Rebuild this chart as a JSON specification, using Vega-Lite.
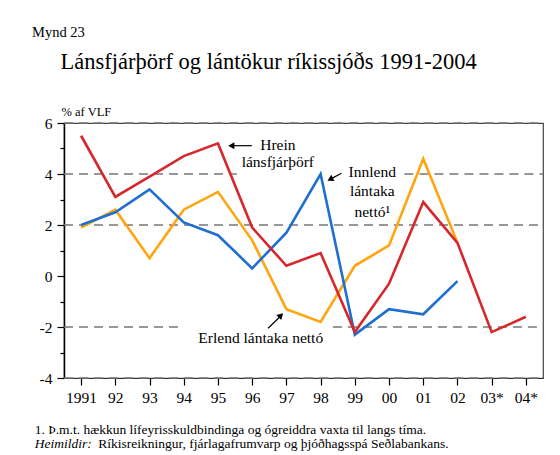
{
  "$schema": "https://vega.github.io/schema/vega-lite/v6.json",
  "width": 479,
  "height": 255,
  "autosize": {"type": "none"},
  "padding": {"left": 64, "top": 123, "right": 17, "bottom": 77},
  "background": "white",
  "config": {
    "font": "Liberation Serif",
    "view": {"stroke": "#444", "strokeWidth": 1.2}
  },
  "title": {
    "text": "Mynd 23",
    "anchor": "start",
    "frame": "group",
    "dx": -32,
    "offset": 10,
    "font": "Liberation Serif",
    "fontSize": 14.5,
    "fontWeight": "normal",
    "color": "black"
  },
  "datasets": {
    "series": [
      {"series": "Erlend", "year": 1991, "value": 1.9},
      {"series": "Erlend", "year": 1992, "value": 2.6},
      {"series": "Erlend", "year": 1993, "value": 0.7},
      {"series": "Erlend", "year": 1994, "value": 2.6},
      {"series": "Erlend", "year": 1995, "value": 3.3},
      {"series": "Erlend", "year": 1996, "value": 1.4},
      {"series": "Erlend", "year": 1997, "value": -1.3},
      {"series": "Erlend", "year": 1998, "value": -1.8},
      {"series": "Erlend", "year": 1999, "value": 0.4},
      {"series": "Erlend", "year": 2000, "value": 1.2},
      {"series": "Erlend", "year": 2001, "value": 4.6},
      {"series": "Erlend", "year": 2002, "value": 1.3},
      {"series": "Innlend", "year": 1991, "value": 2.0},
      {"series": "Innlend", "year": 1992, "value": 2.5},
      {"series": "Innlend", "year": 1993, "value": 3.4},
      {"series": "Innlend", "year": 1994, "value": 2.1},
      {"series": "Innlend", "year": 1995, "value": 1.6},
      {"series": "Innlend", "year": 1996, "value": 0.3},
      {"series": "Innlend", "year": 1997, "value": 1.7},
      {"series": "Innlend", "year": 1998, "value": 4.0},
      {"series": "Innlend", "year": 1999, "value": -2.3},
      {"series": "Innlend", "year": 2000, "value": -1.3},
      {"series": "Innlend", "year": 2001, "value": -1.5},
      {"series": "Innlend", "year": 2002, "value": -0.2},
      {"series": "Hrein", "year": 1991, "value": 5.5},
      {"series": "Hrein", "year": 1992, "value": 3.1},
      {"series": "Hrein", "year": 1993, "value": 3.9},
      {"series": "Hrein", "year": 1994, "value": 4.7},
      {"series": "Hrein", "year": 1995, "value": 5.2},
      {"series": "Hrein", "year": 1996, "value": 1.9},
      {"series": "Hrein", "year": 1997, "value": 0.4},
      {"series": "Hrein", "year": 1998, "value": 0.9},
      {"series": "Hrein", "year": 1999, "value": -2.2},
      {"series": "Hrein", "year": 2000, "value": -0.3},
      {"series": "Hrein", "year": 2001, "value": 2.9},
      {"series": "Hrein", "year": 2002, "value": 1.3},
      {"series": "Hrein", "year": 2003, "value": -2.2},
      {"series": "Hrein", "year": 2004, "value": -1.6}
    ],
    "grid": [
      {"level": 6, "from": 1990.5, "to": 2004.5},
      {"level": 4, "from": 1990.5, "to": 1995.55},
      {"level": 4, "from": 2000.45, "to": 2004.5},
      {"level": 2, "from": 1990.5, "to": 2004.5},
      {"level": -2, "from": 1990.5, "to": 1993.9},
      {"level": -2, "from": 1998.36, "to": 2004.5},
      {"level": -4, "from": 1990.5, "to": 2004.5}
    ],
    "notes": [
      {"text": "Hrein", "year": 1996.75, "value": 4.94},
      {"text": "lánsfjárþörf", "year": 1996.75, "value": 4.27},
      {"text": "Innlend", "year": 1999.51, "value": 3.89},
      {"text": "lántaka", "year": 1999.51, "value": 3.14},
      {"text": "nettó¹", "year": 1999.51, "value": 2.3},
      {"text": "Erlend lántaka nettó", "year": 1996.25, "value": -2.61}
    ],
    "shafts": [
      {"x1": 1995.99, "y1": 5.11, "x2": 1995.35, "y2": 5.11},
      {"x1": 1998.61, "y1": 4.03, "x2": 1998.26, "y2": 3.78},
      {"x1": 1996.465, "y1": -2.05, "x2": 1996.85, "y2": -1.55}
    ],
    "heads": [
      {"year": 1995.39, "value": 5.11, "angle": 270},
      {"year": 1998.28, "value": 3.79, "angle": 242},
      {"year": 1996.84, "value": -1.545, "angle": 45}
    ],
    "foot": [
      {"text": "1. Þ.m.t. hækkun lífeyrisskuldbindinga og ógreiddra vaxta til langs tíma.", "year": 1989.643, "value": -6.18},
      {"text": "Ríkisreikningur, fjárlagafrumvarp og þjóðhagsspá Seðlabankans.", "year": 1991.5, "value": -6.75}
    ],
    "footItalic": [
      {"text": "Heimildir:", "year": 1989.643, "value": -6.75}
    ]
  },
  "resolve": {"axis": {"y": "independent"}},
  "layer": [
    {
      "data": {"name": "grid"},
      "mark": {"type": "rule", "color": "#777", "strokeWidth": 1.5, "strokeDash": [9, 6]},
      "encoding": {
        "x": {
          "field": "from", "type": "quantitative",
          "scale": {"domain": [1990.5, 2004.5], "nice": false, "zero": false},
          "axis": {
            "values": [1991, 1992, 1993, 1994, 1995, 1996, 1997, 1998, 1999, 2000, 2001, 2002, 2003, 2004],
            "tickCount": 20,
            "labelExpr": "datum.value == 1991 ? '1991' : datum.value == 2003 ? '03*' : datum.value == 2004 ? '04*' : substring(toString(datum.value), 2, 4)",
            "tickSize": 7, "tickColor": "black", "tickWidth": 1.2,
            "domainColor": "#333", "domainWidth": 1.2,
            "labelFont": "Liberation Serif", "labelFontSize": 15.5, "labelColor": "black", "labelPadding": 5,
            "labelFlush": false, "labelOverlap": false, "grid": false, "title": null
          }
        },
        "x2": {"field": "to"},
        "y": {
          "field": "level", "type": "quantitative",
          "scale": {"domain": [-4, 6], "nice": false, "zero": false},
          "axis": {
            "orient": "left", "values": [-3, -1, 1, 3, 5], "tickCount": 20, "tickSize": 4, "tickColor": "black", "tickWidth": 1.2,
            "labels": false, "domain": false, "grid": false,
            "title": "Lánsfjárþörf og lántökur ríkissjóðs 1991-2004",
            "titleAngle": 0, "titleAlign": "left", "titleBaseline": "alphabetic",
            "titleX": -4, "titleY": -55, "titleFont": "Liberation Serif", "titleFontSize": 22.5, "titleFontWeight": "normal", "titleColor": "black"
          }
        }
      }
    },
    {
      "mark": {"type": "rule", "color": "black", "strokeWidth": 1.2},
      "encoding": {"y": {"datum": 0, "type": "quantitative", "axis": null}}
    },
    {
      "data": {"name": "series"},
      "mark": {"type": "line", "strokeWidth": 2.6},
      "encoding": {
        "x": {"field": "year", "type": "quantitative", "axis": {"title": null}},
        "y": {
          "field": "value", "type": "quantitative",
          "axis": {
            "orient": "left", "values": [-4, -2, 0, 2, 4, 6], "tickCount": 20,
            "labelExpr": "toString(datum.value)",
            "tickSize": 7, "tickColor": "black", "tickWidth": 1.2,
            "domainColor": "black", "domainWidth": 1.5,
            "labelFont": "Liberation Serif", "labelFontSize": 15.5, "labelColor": "black", "labelPadding": 5,
            "grid": false,
            "title": "% af VLF", "titleAngle": 0, "titleAlign": "left", "titleBaseline": "alphabetic",
            "titleX": -3, "titleY": -8, "titleFont": "Liberation Serif", "titleFontSize": 12.5, "titleFontWeight": "normal", "titleColor": "black"
          }
        },
        "color": {
          "field": "series", "type": "nominal",
          "scale": {"domain": ["Erlend", "Innlend", "Hrein"], "range": ["#ffa510", "#1f6fd2", "#d6282c"]},
          "legend": null
        }
      }
    },
    {
      "data": {"name": "notes"},
      "mark": {"type": "text", "align": "center", "baseline": "alphabetic", "font": "Liberation Serif", "fontSize": 15.5, "color": "black"},
      "encoding": {
        "x": {"field": "year", "type": "quantitative", "axis": {"title": null}},
        "y": {"field": "value", "type": "quantitative", "axis": null},
        "text": {"field": "text"}
      }
    },
    {
      "data": {"name": "shafts"},
      "mark": {"type": "rule", "color": "black", "strokeWidth": 1.2},
      "encoding": {
        "x": {"field": "x1", "type": "quantitative", "axis": {"title": null}},
        "x2": {"field": "x2"},
        "y": {"field": "y1", "type": "quantitative", "axis": null},
        "y2": {"field": "y2"}
      }
    },
    {
      "data": {"name": "heads"},
      "mark": {"type": "point", "shape": "triangle-up", "filled": true, "color": "black", "size": 50, "opacity": 1},
      "encoding": {
        "x": {"field": "year", "type": "quantitative", "axis": {"title": null}},
        "y": {"field": "value", "type": "quantitative", "axis": null},
        "angle": {"field": "angle", "type": "quantitative", "scale": null}
      }
    },
    {
      "data": {"name": "foot"},
      "mark": {"type": "text", "align": "left", "baseline": "alphabetic", "font": "Liberation Serif", "fontSize": 13.5, "color": "black"},
      "encoding": {
        "x": {"field": "year", "type": "quantitative", "axis": {"title": null}},
        "y": {"field": "value", "type": "quantitative", "axis": null},
        "text": {"field": "text"}
      }
    },
    {
      "data": {"name": "footItalic"},
      "mark": {"type": "text", "align": "left", "baseline": "alphabetic", "font": "Liberation Serif", "fontSize": 13.5, "fontStyle": "italic", "color": "black"},
      "encoding": {
        "x": {"field": "year", "type": "quantitative", "axis": {"title": null}},
        "y": {"field": "value", "type": "quantitative", "axis": null},
        "text": {"field": "text"}
      }
    }
  ]
}
